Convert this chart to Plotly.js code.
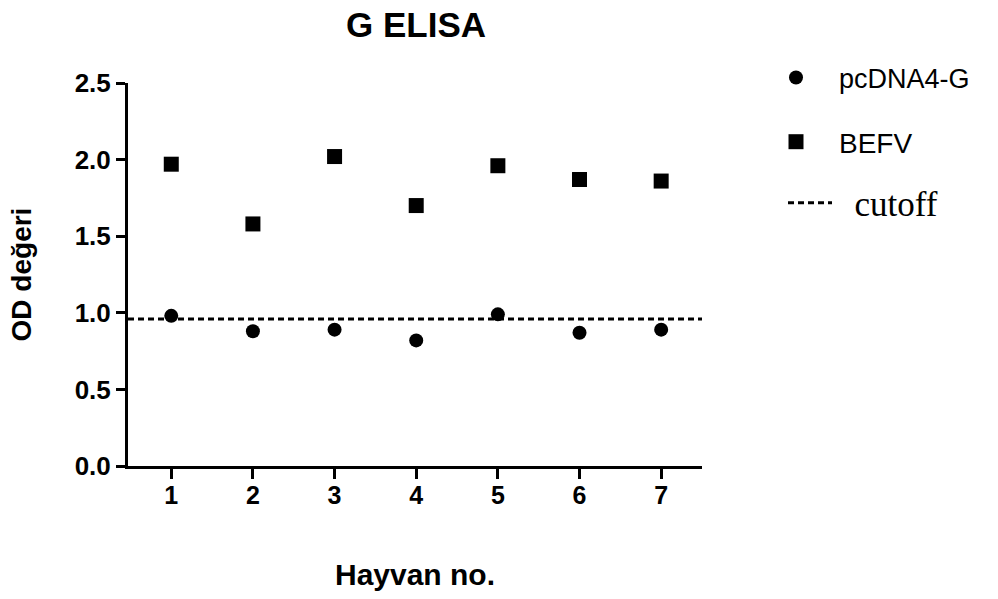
<!DOCTYPE html>
<html><head><meta charset="utf-8">
<script src="https://cdn.plot.ly/plotly-3.0.1.min.js"></script>
<style>html,body{margin:0;padding:0;background:#fff}#chart{width:998px;height:599px}</style>
</head><body><div id="chart"></div>
<script>
const animals = [1, 2, 3, 4, 5, 6, 7];
const pcDNA4G = [0.98, 0.88, 0.89, 0.82, 0.99, 0.87, 0.89];
const befv = [1.97, 1.58, 2.02, 1.70, 1.96, 1.87, 1.86];
const cutoff = 0.96;
const xRange = [0.47, 7.5];
const yTicks = [0, 0.5, 1.0, 1.5, 2.0, 2.5];
const yTickText = ['0.0', '0.5', '1.0', '1.5', '2.0', '2.5'];

const AR = 'Liberation Sans, Arial, sans-serif';
const TR = 'Liberation Serif, Times New Roman, serif';

const traces = [
  {x: xRange, y: [cutoff, cutoff], mode: 'lines', name: '\u00a0\u00a0cutoff',
   line: {color: '#000', width: 3, dash: '6px,4px'}, legend: 'legend3', hoverinfo: 'skip'},
  {x: animals, y: pcDNA4G, mode: 'markers', name: 'pcDNA4-G',
   marker: {symbol: 'circle', size: 14, color: '#000'}, legend: 'legend'},
  {x: animals, y: befv, mode: 'markers', name: 'BEFV',
   marker: {symbol: 'square', size: 15, color: '#000'}, legend: 'legend2'}
];

function lg(xpx, ypx, fam, size, w) {
  return {x: (xpx - 128) / 574, y: (466 - ypx) / 383, xanchor: 'left', yanchor: 'middle',
    font: {family: fam, size: size, color: '#000'}, bgcolor: 'rgba(0,0,0,0)', itemwidth: w};
}

const layout = {
  width: 998, height: 599,
  margin: {l: 128, r: 296, t: 83, b: 133},
  paper_bgcolor: '#fff', plot_bgcolor: '#fff',
  title: {text: '<b>G ELISA</b>', font: {family: AR, size: 35, color: '#000'},
          x: (416 - 128) / 574, xref: 'paper', xanchor: 'center', y: 1 - 25 / 599, yref: 'container', yanchor: 'middle'},
  xaxis: {range: xRange, tickvals: animals, ticktext: animals.map(String),
    showline: true, linecolor: '#000', linewidth: 3, ticks: 'outside', ticklen: 10, tickwidth: 3,
    tickcolor: '#000', showgrid: false, zeroline: false, ticklabelstandoff: -5,
    tickfont: {family: AR, size: 25, color: '#000', weight: 'bold'},
    title: {text: '<b>Hayvan no.</b>', font: {family: AR, size: 30, color: '#000'}, standoff: 56}},
  yaxis: {range: [0, 2.5], tickvals: yTicks, ticktext: yTickText,
    showline: true, linecolor: '#000', linewidth: 3, ticks: 'outside', ticklen: 9, tickwidth: 3,
    tickcolor: '#000', showgrid: false, zeroline: false,
    tickfont: {family: AR, size: 26, color: '#000', weight: 'bold'},
    title: {text: '<b>OD değeri</b>', font: {family: AR, size: 28, color: '#000'}, standoff: 35}},
  legend: lg(753, 78, AR, 27, 76),
  legend2: lg(753, 142, AR, 28, 76),
  legend3: lg(783, 203, TR, 35, 44),
  showlegend: true
};

Plotly.newPlot('chart', traces, layout, {displayModeBar: false, staticPlot: true});
</script></body></html>
